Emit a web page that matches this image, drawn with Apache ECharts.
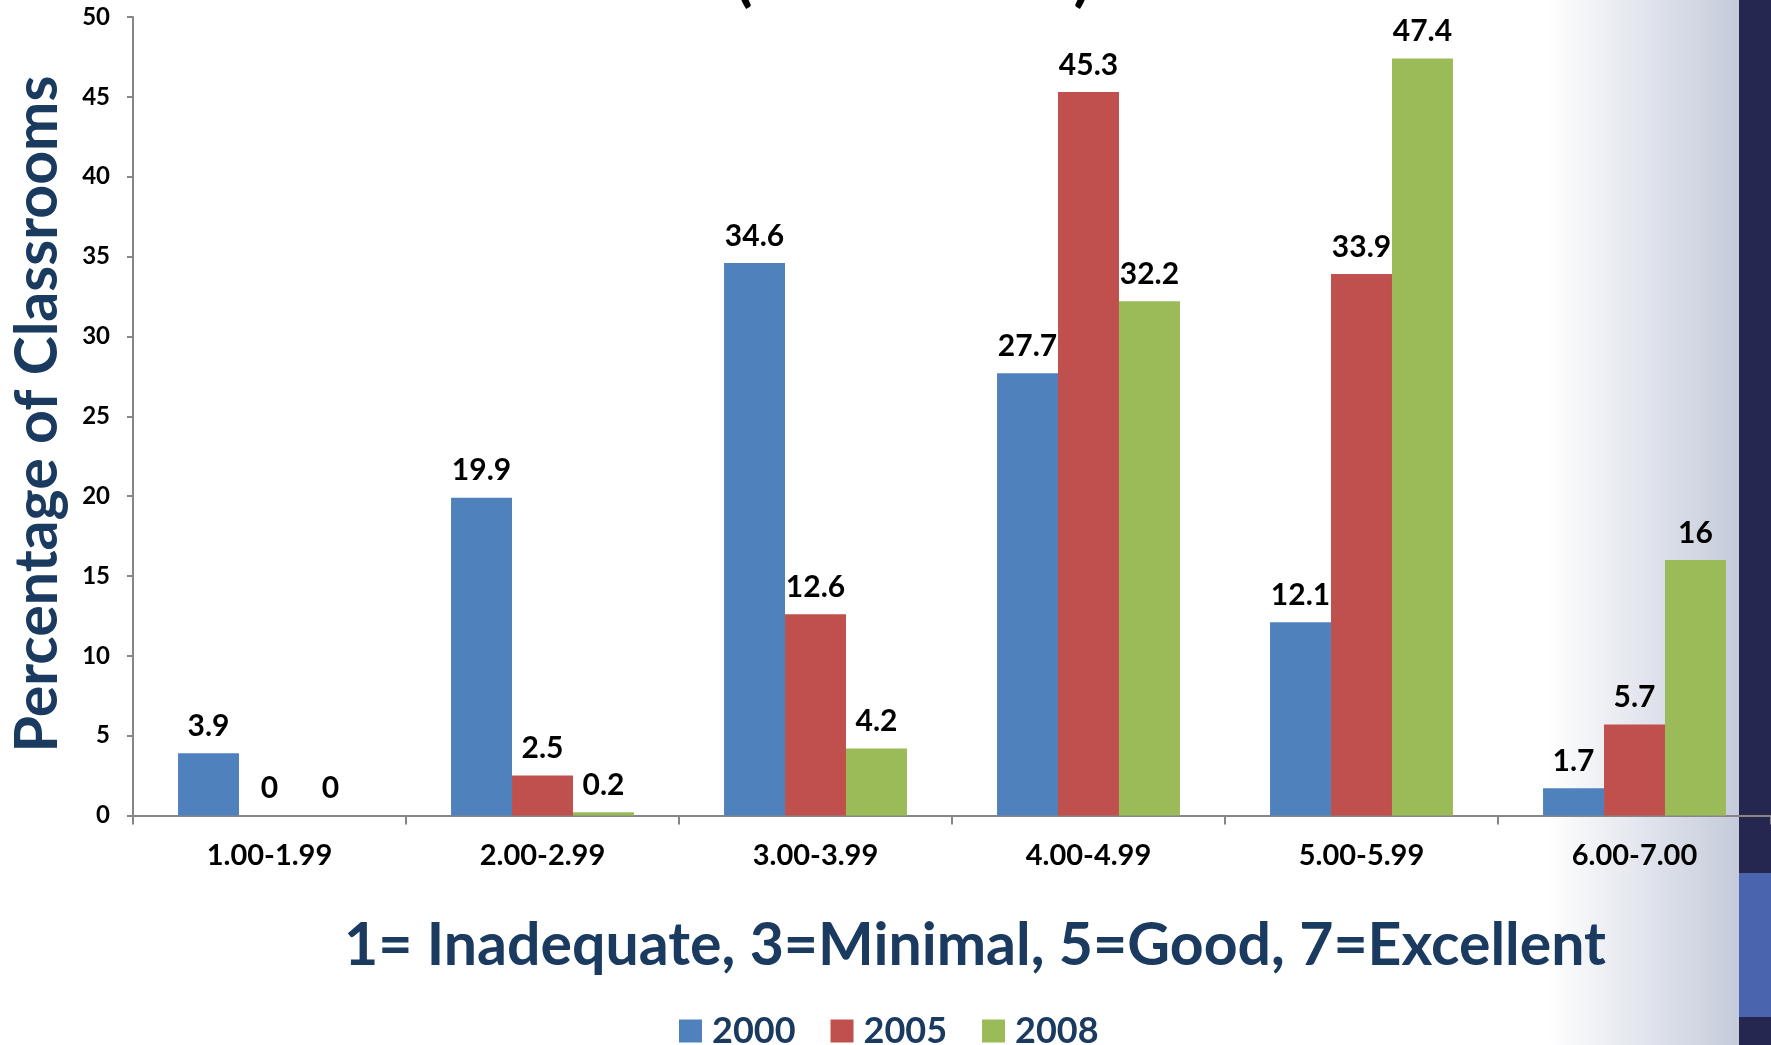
<!DOCTYPE html>
<html><head><meta charset="utf-8">
<script src="https://cdn.jsdelivr.net/npm/echarts@6/dist/echarts.min.js"></script>
<style>html,body{margin:0;padding:0;background:#fff}#c{width:1771px;height:1045px}</style>
</head><body><div id="c"></div>
<script>
const categories = ['1.00-1.99','2.00-2.99','3.00-3.99','4.00-4.99','5.00-5.99','6.00-7.00'];
const s2000 = [3.9, 19.9, 34.6, 27.7, 12.1, 1.7];
const s2005 = [0, 2.5, 12.6, 45.3, 33.9, 5.7];
const s2008 = [0, 0.2, 4.2, 32.2, 47.4, 16];
const seriesNames = ['2000','2005','2008'];
const colors = ['#4f81bd','#c0504d','#9bbb59'];
const yTitle = 'Percentage of Classrooms';
const subtitle = '1= Inadequate, 3=Minimal, 5=Good, 7=Excellent';
const topTitle = '(2000-2008)';

const FONT = 'Lato';
const NAVY = '#1a3a60';
const chart = echarts.init(document.getElementById('c'));
const lbl = {show:true, position:'top', distance:12, color:'#000', fontFamily:FONT, fontWeight:'bold', fontSize:30};
function mk(name, data, color){
  return {name, type:'bar', data, barGap:'0%', barCategoryGap:'33%',
    itemStyle:{color}, label:lbl, z:5};
}
chart.setOption({
  animation:false,
  color:colors,
  graphic:[
    {type:'rect', z:-10, shape:{x:1547,y:0,width:192,height:1045},
     style:{fill:new echarts.graphic.LinearGradient(0,0,1,0,[{offset:0,color:'#ffffff'},{offset:1,color:'#c5cbdb'}])}},
    {type:'rect', z:-10, shape:{x:1739,y:0,width:32,height:1045}, style:{fill:'#262750'}},
    {type:'rect', z:-9, shape:{x:1739,y:873,width:32,height:144}, style:{fill:'#4a64ad'}},
    {type:'text', z:10, x:38, y:414, rotation:Math.PI/2,
     style:{text:yTitle, fill:NAVY, font:'bold 59px '+FONT, textAlign:'center', textVerticalAlign:'middle'}},
    {type:'text', z:10, x:975, y:946,
     style:{text:subtitle, fill:NAVY, font:'bold 59px '+FONT, textAlign:'center', textVerticalAlign:'middle'}},
    {type:'text', z:10, x:913, y:-22,
     style:{text:topTitle, fill:'#000', font:'bold 64px '+FONT, textAlign:'center', textVerticalAlign:'middle'}}
  ],
  legend:{data:seriesNames, left:674, top:1008, itemWidth:23, itemHeight:23, itemGap:35,
    icon:'rect', textStyle:{color:NAVY, fontFamily:FONT, fontWeight:'bold', fontSize:36, padding:[0,0,0,5]}},
  grid:{left:133, top:17, width:1640, bottom:229.5},
  xAxis:{type:'category', data:categories,
    axisLine:{lineStyle:{color:'#868686', width:2}},
    axisTick:{show:true, length:9, lineStyle:{color:'#868686', width:2}},
    axisLabel:{color:'#000', fontFamily:FONT, fontWeight:'bold', fontSize:29, margin:26}},
  yAxis:{type:'value', min:0, max:50, interval:5,
    axisLine:{show:true, lineStyle:{color:'#868686', width:2}},
    axisTick:{show:true, inside:false, length:6, lineStyle:{color:'#868686', width:2}},
    splitLine:{show:false},
    axisLabel:{color:'#000', fontFamily:FONT, fontWeight:'bold', fontSize:24, margin:23}},
  series:[mk(seriesNames[0], s2000, colors[0]), mk(seriesNames[1], s2005, colors[1]), mk(seriesNames[2], s2008, colors[2])]
});
</script></body></html>
